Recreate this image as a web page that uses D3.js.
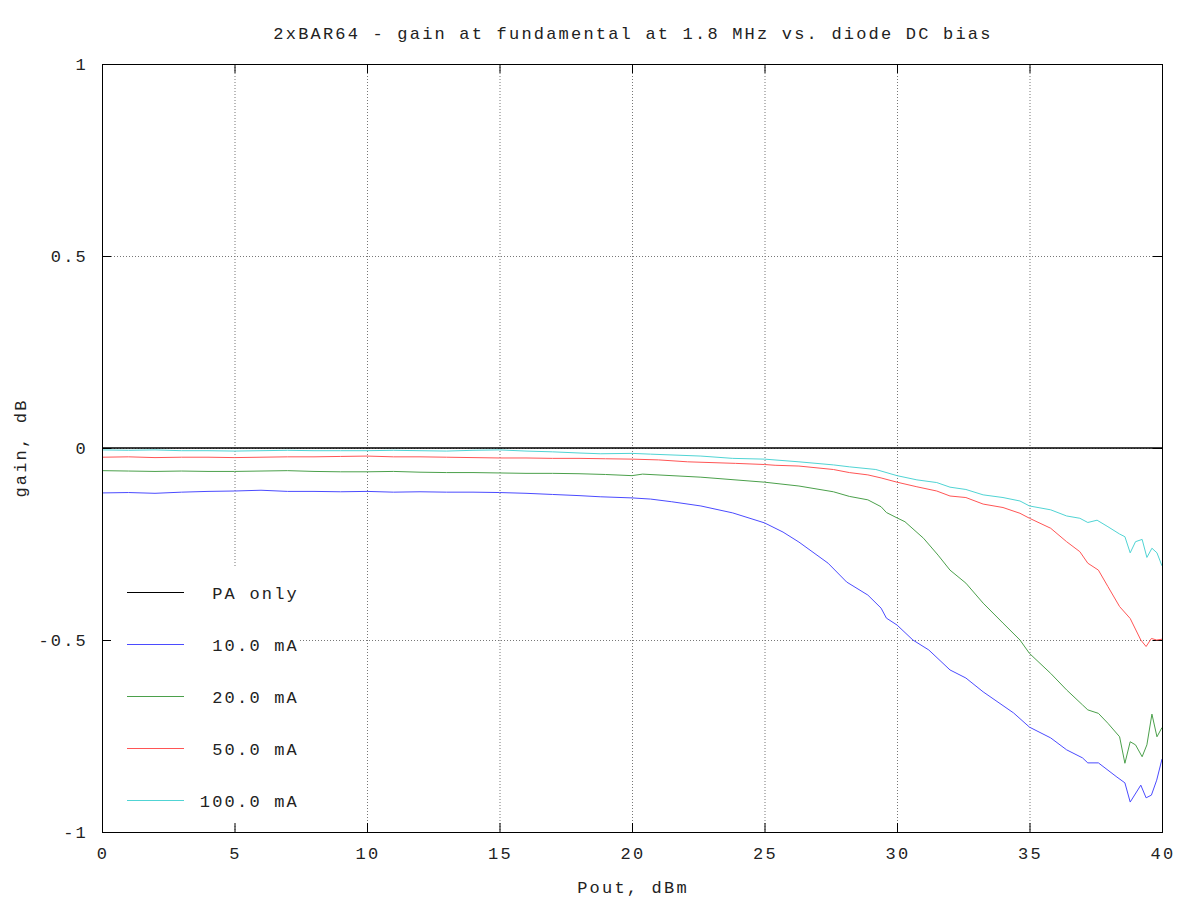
<!DOCTYPE html>
<html>
<head>
<meta charset="utf-8">
<script src="https://cdn.jsdelivr.net/npm/d3@7"></script>
<style>
  body { margin: 0; background: #fff; }
  text { font-family: "Liberation Mono", "DejaVu Sans Mono", monospace; font-size: 17px; letter-spacing: 2.2px; fill: #222; }
</style>
</head>
<body>
<svg id="chart" width="1200" height="900"></svg>
<script>
// ---- data ----
const title = "2xBAR64 - gain at fundamental at 1.8 MHz vs. diode DC bias";
const xLabel = "Pout, dBm";
const yLabel = "gain, dB";
const xTicks = [0, 5, 10, 15, 20, 25, 30, 35, 40];
const yTicks = [1, 0.5, 0, -0.5, -1];
const yTickLabels = ["1", "0.5", "0", "-0.5", "-1"];
const seriesNames = ["PA only", "10.0 mA", "20.0 mA", "50.0 mA", "100.0 mA"];
const seriesColors = ["#000000", "#4b4bff", "#4ba04b", "#ff5555", "#50d4d4"];

const paOnly = [[0, 0], [40, 0]];

const bias10 = [[0,-0.117],[1,-0.116],[2,-0.118],[3,-0.115],[4,-0.113],[5,-0.112],[6,-0.110],[7,-0.113],
  [8,-0.113],[9,-0.114],[10,-0.113],[11,-0.115],[12,-0.114],[13,-0.115],[14,-0.115],[15,-0.116],[16,-0.118],
  [17,-0.121],[18,-0.124],[18.8,-0.127],[20,-0.130],[20.7,-0.133],[21.5,-0.140],[22.6,-0.151],[23.8,-0.169],
  [25,-0.195],[25.7,-0.219],[26.3,-0.245],[27.4,-0.300],[28.1,-0.349],[28.9,-0.383],[29.4,-0.417],[29.6,-0.443],
  [30.0,-0.461],[30.6,-0.50],[31.2,-0.526],[32.0,-0.578],[32.6,-0.599],[33.25,-0.635],[34.4,-0.69],[35.0,-0.727],
  [35.8,-0.755],[36.4,-0.786],[37.0,-0.807],[37.2,-0.82],[37.6,-0.82],[38.3,-0.857],[38.6,-0.872],[38.8,-0.922],
  [39.2,-0.878],[39.4,-0.911],[39.6,-0.904],[39.8,-0.865],[40,-0.81]];

const bias20 = [[0,-0.059],[1,-0.060],[2,-0.061],[3,-0.060],[4,-0.061],[5,-0.061],[6,-0.060],[7,-0.059],
  [8,-0.061],[9,-0.062],[10,-0.062],[11,-0.061],[12,-0.063],[13,-0.064],[14,-0.064],[15,-0.065],[16,-0.066],
  [17,-0.066],[18,-0.067],[19,-0.069],[20,-0.072],[20.4,-0.068],[22.6,-0.076],[25,-0.089],[26.3,-0.099],
  [27.6,-0.114],[28.2,-0.126],[28.9,-0.135],[29.4,-0.153],[29.6,-0.168],[30.0,-0.182],[30.3,-0.192],[31.0,-0.235],
  [31.55,-0.279],[32.0,-0.318],[32.6,-0.352],[33.25,-0.404],[34.0,-0.456],[34.64,-0.50],[35.0,-0.535],[35.8,-0.587],
  [36.4,-0.630],[37.0,-0.669],[37.2,-0.682],[37.6,-0.691],[37.96,-0.717],[38.4,-0.752],[38.6,-0.821],[38.8,-0.765],
  [39.0,-0.773],[39.25,-0.804],[39.43,-0.773],[39.62,-0.693],[39.81,-0.752],[40,-0.728]];

const bias50 = [[0,-0.024],[1,-0.023],[2,-0.025],[3,-0.024],[4,-0.024],[5,-0.025],[6,-0.024],[7,-0.023],
  [8,-0.023],[9,-0.022],[10,-0.021],[11,-0.023],[12,-0.023],[13,-0.024],[14,-0.025],[15,-0.026],[16,-0.026],
  [17,-0.027],[18,-0.027],[19,-0.028],[20,-0.029],[21,-0.031],[22.1,-0.036],[23.9,-0.040],[25,-0.043],
  [25.4,-0.045],[26.3,-0.047],[27.6,-0.056],[28.2,-0.064],[28.9,-0.070],[29.4,-0.078],[30.0,-0.089],[30.75,-0.101],
  [31.5,-0.112],[32.0,-0.125],[32.6,-0.129],[33.25,-0.146],[34.0,-0.155],[34.64,-0.170],[35.0,-0.183],[35.8,-0.209],
  [36.4,-0.244],[36.9,-0.270],[37.2,-0.30],[37.6,-0.318],[37.96,-0.361],[38.4,-0.413],[38.8,-0.444],[39.2,-0.50],
  [39.4,-0.517],[39.6,-0.496],[39.8,-0.50],[40,-0.498]];

const bias100 = [[0,-0.005],[1,-0.006],[2,-0.005],[3,-0.007],[4,-0.007],[5,-0.008],[6,-0.007],[7,-0.006],
  [8,-0.007],[9,-0.007],[10,-0.007],[11,-0.006],[12,-0.007],[13,-0.008],[14,-0.006],[15,-0.005],[16,-0.008],
  [17,-0.010],[18,-0.013],[18.8,-0.015],[20,-0.014],[20.7,-0.016],[22.6,-0.021],[23.8,-0.027],[25,-0.029],
  [26.3,-0.036],[27.6,-0.044],[28.2,-0.049],[29.2,-0.056],[30.0,-0.072],[30.75,-0.083],[31.5,-0.090],[32.0,-0.102],
  [32.6,-0.108],[33.25,-0.122],[34.0,-0.129],[34.64,-0.138],[35.0,-0.151],[35.8,-0.161],[36.4,-0.177],[36.9,-0.183],
  [37.2,-0.194],[37.55,-0.188],[37.96,-0.205],[38.4,-0.224],[38.6,-0.231],[38.8,-0.273],[39.0,-0.244],[39.25,-0.238],
  [39.43,-0.285],[39.62,-0.261],[39.81,-0.273],[40,-0.307]];

const seriesData = [paOnly, bias10, bias20, bias50, bias100];

// ---- layout ----
const svg = d3.select("#chart");
const L = 102, R = 1162, T = 64, B = 832;
const x = d3.scaleLinear().domain([0, 40]).range([L, R]);
const y = d3.scaleLinear().domain([-1, 1]).range([B, T]);

svg.append("defs").append("clipPath").attr("id", "clip")
  .append("rect").attr("x", L).attr("y", T).attr("width", R - L).attr("height", B - T);

// grid
const grid = svg.append("g");
grid.selectAll(".gx").data(xTicks).join("line")
  .attr("x1", d => x(d) + 0.5).attr("x2", d => x(d) + 0.5)
  .attr("y1", T).attr("y2", B)
  .attr("stroke", "#777").attr("stroke-width", 1).attr("stroke-dasharray", "1,2");
grid.selectAll(".gy").data(yTicks).join("line")
  .attr("y1", d => y(d) + 0.5).attr("y2", d => y(d) + 0.5)
  .attr("x1", L).attr("x2", R)
  .attr("stroke", "#777").attr("stroke-width", 1).attr("stroke-dasharray", "1,2");

// legend background (opaque, no border)
svg.append("rect").attr("x", L + 1).attr("y", 566).attr("width", 195).attr("height", 258).attr("fill", "#fff");

// ticks (inward, mirrored)
const tl = 9;
const axB = d3.axisBottom(x).tickValues(xTicks).tickSize(-tl).tickFormat("");
const axT = d3.axisTop(x).tickValues(xTicks).tickSize(-tl).tickFormat("");
const axL = d3.axisLeft(y).tickValues(yTicks).tickSize(-tl).tickFormat("");
const axR = d3.axisRight(y).tickValues(yTicks).tickSize(-tl).tickFormat("");
[[axB, `translate(0,${B})`], [axT, `translate(0,${T})`], [axL, `translate(${L},0)`], [axR, `translate(${R},0)`]]
  .forEach(([ax, tr]) => {
    const g = svg.append("g").attr("transform", tr).call(ax);
    g.select(".domain").remove();
    g.selectAll("line").attr("stroke", "#000");
  });

// tick labels
svg.append("g").selectAll("text").data(xTicks).join("text")
  .attr("x", d => x(d) + 1).attr("y", B + 27)
  .attr("text-anchor", "middle").text(d => d);
svg.append("g").selectAll("text").data(yTicks).join("text")
  .attr("x", 88).attr("y", d => y(d) + 6)
  .attr("text-anchor", "end").text((d, i) => yTickLabels[i]);

// series lines
const line = d3.line().x(d => x(d[0])).y(d => y(d[1]));
const lines = svg.append("g").attr("clip-path", "url(#clip)");
seriesData.forEach((s, i) => {
  lines.append("path").datum(s)
    .attr("d", line)
    .attr("fill", "none")
    .attr("stroke", seriesColors[i])
    .attr("stroke-width", i === 0 ? 1.6 : 1);
});

// border
svg.append("rect").attr("x", L + 0.5).attr("y", T + 0.5).attr("width", R - L).attr("height", B - T)
  .attr("fill", "none").attr("stroke", "#000").attr("stroke-width", 1);

// legend
const lg = svg.append("g");
seriesNames.forEach((n, i) => {
  const yy = 592 + i * 52;
  lg.append("line").attr("x1", 127).attr("x2", 184).attr("y1", yy + 0.5).attr("y2", yy + 0.5)
    .attr("stroke", seriesColors[i]).attr("stroke-width", 1.2);
  lg.append("text").attr("x", 299).attr("y", yy + 7).attr("text-anchor", "end").text(n);
});

// titles
svg.append("text").attr("x", 633).attr("y", 39).attr("text-anchor", "middle").text(title);
svg.append("text").attr("x", 633).attr("y", 893).attr("text-anchor", "middle").text(xLabel);
svg.append("text").attr("transform", "translate(26,448) rotate(-90)").attr("text-anchor", "middle").text(yLabel);
</script>
</body>
</html>
